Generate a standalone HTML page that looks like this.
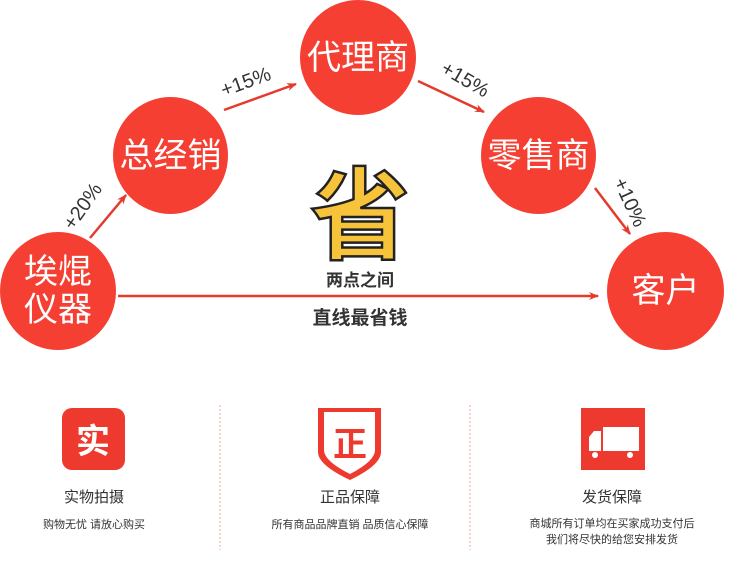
<!DOCTYPE html>
<html><head><meta charset="utf-8"><style>
body{margin:0;width:739px;height:574px;background:#fff;position:relative;overflow:hidden;font-family:"Liberation Sans","Noto Sans CJK SC",sans-serif}
.c{position:absolute;border-radius:50%;background:#f43f32;color:#fff;display:flex;align-items:center;justify-content:center;text-align:center;font-size:34px;line-height:38px}
.t{position:absolute;text-align:center}
</style></head><body>
<div class="c" style="left:0;top:232px;width:116px;height:118px">埃焜<br>仪器</div>
<div class="c" style="left:113px;top:97px;width:115px;height:117px">总经销</div>
<div class="c" style="left:300px;top:0;width:116px;height:115px">代理商</div>
<div class="c" style="left:481px;top:97px;width:115px;height:117px">零售商</div>
<div class="c" style="left:607px;top:232px;width:117px;height:118px">客户</div>
<svg style="position:absolute;left:0;top:0" width="739" height="574">
<defs><marker id="a" markerWidth="10" markerHeight="8" refX="9" refY="4" orient="auto" markerUnits="userSpaceOnUse"><path d="M0,0 L10,4 L0,8 L3,4z" fill="#e53a2c"/></marker></defs>
<g stroke="#e53a2c" stroke-width="2.5" fill="none" marker-end="url(#a)">
<line x1="90" y1="238" x2="126" y2="195"/>
<line x1="224" y1="110" x2="296" y2="84"/>
<line x1="418" y1="81" x2="484" y2="112"/>
<line x1="595" y1="188" x2="630" y2="234"/>
<line x1="118" y1="296" x2="598" y2="296"/>
</g>
<g fill="#333" font-size="20" font-family="Liberation Sans,sans-serif">
<text x="88" y="210" transform="rotate(-55 88 210)" text-anchor="middle">+20%</text>
<text x="248" y="88" transform="rotate(-20 248 88)" text-anchor="middle">+15%</text>
<text x="462" y="85" transform="rotate(30 462 85)" text-anchor="middle">+15%</text>
<text x="624" y="205" transform="rotate(65 624 205)" text-anchor="middle">+10%</text>
</g>
<g stroke="#f3a0a0" stroke-width="1" stroke-dasharray="2,2"><line x1="220" y1="405" x2="220" y2="550"/><line x1="470" y1="405" x2="470" y2="550"/></g>
<rect x="62" y="408" width="63" height="62" rx="10" fill="#ee3a2e"/>
<text x="93" y="453" fill="#fff" font-size="34" font-weight="bold" text-anchor="middle" font-family="Noto Sans CJK SC,sans-serif">实</text>
<path d="M318,408 H381 V452 Q381,465 350,480 Q318,465 318,452Z" fill="#ee3a2e"/>
<path d="M324,412 H375 V450 Q375,461 350,474 Q324,461 324,450Z" fill="#fff"/>
<text x="350" y="456" fill="#ee3a2e" font-size="34" font-weight="bold" text-anchor="middle" font-family="Noto Sans CJK SC,sans-serif">正</text>
<rect x="581" y="408" width="64" height="62" fill="#ee3a2e"/>
<rect x="603" y="427" width="36" height="24" fill="#fff"/>
<path d="M589,451 V437 L594,431 H601 V451Z" fill="#fff"/>
<circle cx="595" cy="455" r="3" fill="#fff"/><circle cx="630" cy="455" r="3" fill="#fff"/>
</svg>
<div class="t" style="left:295px;top:152px;width:130px;font-size:100px;line-height:112px;color:#f6c33a;font-weight:bold;-webkit-text-stroke:2.5px #222;font-family:'Noto Sans CJK SC',sans-serif">省</div>
<div class="t" style="left:280px;top:266px;width:160px;font-size:17px;font-weight:bold;color:#333">两点之间</div>
<div class="t" style="left:280px;top:303px;width:160px;font-size:19px;font-weight:bold;color:#333">直线最省钱</div>
<div class="t" style="left:14px;top:486px;width:160px;font-size:15px;color:#333">实物拍摄</div>
<div class="t" style="left:14px;top:516px;width:160px;font-size:11px;color:#333">购物无忧 请放心购买</div>
<div class="t" style="left:270px;top:486px;width:160px;font-size:15px;color:#333">正品保障</div>
<div class="t" style="left:240px;top:516px;width:220px;font-size:11px;color:#333">所有商品品牌直销 品质信心保障</div>
<div class="t" style="left:532px;top:486px;width:160px;font-size:15px;color:#333">发货保障</div>
<div class="t" style="left:502px;top:516px;width:220px;font-size:11px;line-height:16px;color:#333">商城所有订单均在买家成功支付后<br>我们将尽快的给您安排发货</div>
</body></html>
